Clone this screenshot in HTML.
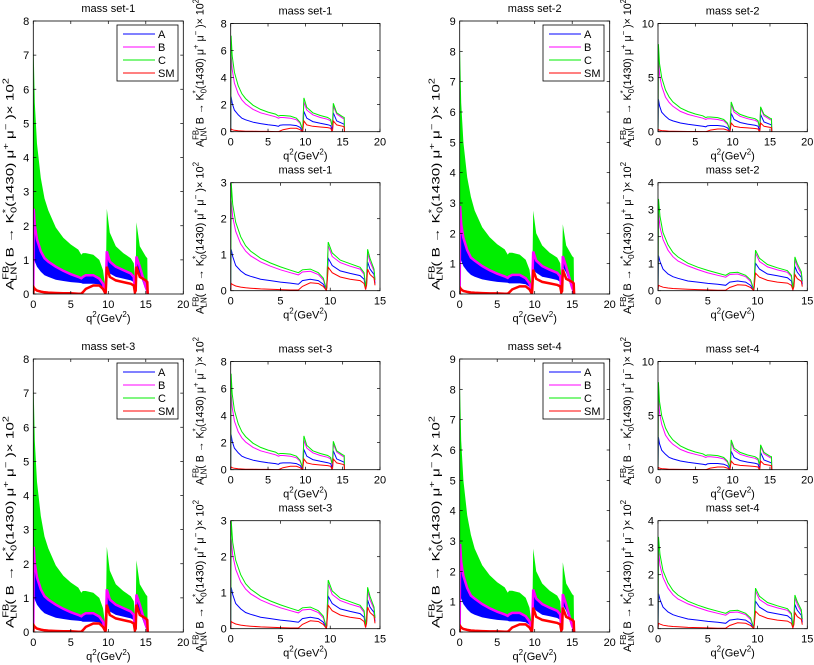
<!DOCTYPE html>
<html><head><meta charset="utf-8"><style>
html,body{margin:0;padding:0;background:#fff;}
svg{display:block;font-family:"Liberation Sans",sans-serif;}
</style></head><body>
<svg id="fig" width="814" height="665" viewBox="0 0 814 665" xmlns="http://www.w3.org/2000/svg"></svg>
<script>
// ---- data ----
const qTop = [0,0.05,0.2,0.5,1,1.5,2,3,4,5,6,6.4,6.6,7,8,8.8,9.3,9.6,9.65,9.8,10.2,11,12,13,13.4,13.55,13.65,13.75,14.2,15,15.2,15.25];
const qBot = [0,0.05,0.2,0.5,1,1.5,2,3,4,5,6,6.8,7.2,8,8.8,9.3,9.6,9.65,9.8,10.2,11,12,13,13.4,13.55,13.65,13.75,14.0,14.4,14.5];
// set 1 / 3, top small panel
const topC1 = [0,7.1,5.6,4.4,3.4,2.8,2.45,1.95,1.65,1.45,1.3,1.15,1.2,1.2,1.15,1.0,0.7,0.2,0.1,2.5,1.8,1.4,1.2,1.05,0.9,0.5,0.6,2.1,1.4,1.1,1.05,0];
const topB1 = [0,5.7,4.6,3.6,2.8,2.35,2.05,1.65,1.4,1.25,1.1,1.0,1.05,1.05,1.0,0.88,0.62,0.18,0.1,2.2,1.6,1.25,1.05,0.92,0.8,0.45,0.5,1.9,1.3,1.0,0.95,0];
const topA1 = [0,2.6,2.1,1.6,1.25,1.0,0.88,0.7,0.6,0.52,0.45,0.4,0.48,0.5,0.5,0.45,0.32,0.08,0.05,1.5,1.0,0.75,0.62,0.52,0.45,0.2,0.3,1.4,0.8,0.6,0.55,0];
const topSM = [0,0.2,0.15,0.1,0.07,0.05,0.04,0.03,0.02,0.02,0.01,0.01,0.05,0.15,0.25,0.25,0.15,0.02,0.05,0.8,0.5,0.4,0.35,0.3,0.25,0.05,0.1,0.8,0.5,0.4,0.35,0];
// set 1 / 3, bottom small panel
const botC1 = [0,3.0,2.4,1.9,1.5,1.25,1.1,0.9,0.77,0.66,0.57,0.5,0.58,0.6,0.5,0.35,0.05,0.1,1.35,1.05,0.85,0.75,0.65,0.5,0.1,0.3,1.15,0.9,0.6,0.3];
const botB1 = [0,2.5,2.05,1.65,1.3,1.1,0.97,0.8,0.68,0.58,0.5,0.44,0.52,0.54,0.45,0.3,0.04,0.1,1.25,0.95,0.78,0.68,0.6,0.45,0.1,0.3,1.05,0.8,0.55,0.28];
const botA1 = [0,1.15,0.95,0.7,0.55,0.45,0.4,0.32,0.28,0.24,0.21,0.18,0.28,0.32,0.28,0.18,0.02,0.08,0.9,0.7,0.55,0.48,0.42,0.32,0.05,0.2,0.8,0.6,0.45,0.2];
const botSM = [0,0.2,0.17,0.13,0.1,0.08,0.07,0.05,0.04,0.03,0.02,0.02,0.12,0.22,0.2,0.12,0.01,0.05,0.65,0.5,0.38,0.32,0.28,0.2,0.03,0.15,0.6,0.45,0.35,0.15];
// set 2 / 4
const topC2 = [0,8.1,6.3,5.0,3.85,3.2,2.75,2.2,1.87,1.64,1.47,1.3,1.36,1.36,1.3,1.13,0.8,0.23,0.1,2.75,2.0,1.6,1.36,1.2,1.02,0.55,0.7,2.3,1.6,1.25,1.2,0];
const topB2 = [0,6.9,5.3,4.2,3.2,2.7,2.35,1.88,1.6,1.42,1.25,1.13,1.2,1.2,1.13,1.0,0.7,0.2,0.1,2.5,1.8,1.42,1.2,1.05,0.9,0.5,0.6,2.15,1.47,1.13,1.07,0];
const topA2 = [0,3.0,2.4,1.8,1.42,1.13,1.0,0.8,0.68,0.59,0.51,0.45,0.54,0.57,0.57,0.51,0.36,0.09,0.05,1.7,1.13,0.85,0.7,0.59,0.51,0.23,0.34,1.6,0.9,0.68,0.62,0];
const botC2 = [0,3.4,2.75,2.15,1.7,1.42,1.25,1.02,0.87,0.75,0.65,0.57,0.66,0.68,0.57,0.4,0.06,0.1,1.5,1.2,0.97,0.85,0.74,0.57,0.1,0.34,1.25,1.0,0.7,0.35];
const botB2 = [0,2.9,2.35,1.9,1.5,1.26,1.1,0.92,0.78,0.66,0.57,0.5,0.6,0.62,0.52,0.34,0.05,0.1,1.4,1.08,0.88,0.77,0.68,0.52,0.1,0.34,1.15,0.9,0.62,0.32];
const botA2 = [0,1.3,1.08,0.8,0.62,0.52,0.46,0.36,0.32,0.27,0.24,0.2,0.32,0.36,0.32,0.2,0.02,0.09,1.02,0.8,0.62,0.55,0.48,0.36,0.06,0.23,0.9,0.68,0.5,0.23];
// big panel bands (on qTop grid)
const bigLo1 = [0,1.0,0.95,0.8,0.65,0.55,0.5,0.42,0.38,0.35,0.33,0.32,0.3,0.3,0.3,0.28,0.2,0.05,0.05,0.7,0.6,0.5,0.45,0.4,0.35,0.1,0.2,0.8,0.6,0.1,0.1,0];
const bigHi1 = [0,2.5,2.0,1.6,1.25,1.05,0.95,0.8,0.68,0.58,0.5,0.46,0.5,0.55,0.55,0.45,0.3,0.05,0.1,1.25,0.95,0.8,0.7,0.6,0.5,0.1,0.3,1.1,0.8,0.2,0.1,0];
const bigLo2 = [0,1.15,1.1,0.92,0.75,0.63,0.57,0.48,0.44,0.4,0.38,0.37,0.35,0.35,0.35,0.32,0.23,0.06,0.06,0.8,0.7,0.57,0.52,0.46,0.4,0.1,0.23,0.9,0.7,0.1,0.1,0];
const bigHi2 = [0,2.9,2.3,1.85,1.45,1.2,1.1,0.92,0.78,0.67,0.58,0.53,0.58,0.63,0.63,0.52,0.35,0.06,0.1,1.4,1.1,0.92,0.8,0.7,0.58,0.1,0.35,1.25,0.9,0.2,0.1,0];
const xTicks20 = [0,5,10,15,20];
const xTicks15 = [0,5,10,15];
const yTicksBig8 = [0,1,2,3,4,5,6,7,8];
const yTicksBig9 = [0,1,2,3,4,5,6,7,8,9];
const yTicksTop8 = [0,2,4,6,8];
const yTicksTop10 = [0,5,10];
const yTicksBot3 = [0,1,2,3];
const yTicksBot4 = [0,1,2,3,4];
const legendNames = ["A","B","C","SM"];
const legendColors = ["#0000ff","#ff00ff","#00ee00","#ff0000"];

const NS="http://www.w3.org/2000/svg";
const svg=document.getElementById('fig');
function mk(tag,attrs,parent){const e=document.createElementNS(NS,tag);for(const k in attrs)e.setAttribute(k,attrs[k]);(parent||svg).appendChild(e);return e;}

function ylabel(g,cx,cy,len){
  const t=mk('text',{transform:`translate(${cx},${cy}) rotate(-90)`,'text-anchor':'middle','font-size':'11',textLength:len,lengthAdjust:'spacingAndGlyphs'},g);
  
  
  t.innerHTML='A<tspan font-size="8" dy="-5">FB</tspan><tspan font-size="8" dx="-11" dy="8">LN</tspan><tspan dy="-3">( B → K</tspan><tspan font-size="8" dy="-5">*</tspan><tspan font-size="8" dx="-3" dy="8">0</tspan><tspan dy="-3">(1430) μ</tspan><tspan font-size="8" dy="-5">+</tspan><tspan dy="5"> μ</tspan><tspan font-size="8" dy="-5">−</tspan><tspan dy="5"> )× 10</tspan><tspan font-size="8" dy="-5">2</tspan>';
}

function panel(opt){
  const g=mk('g',{});
  
  
  const {x0,x1,yT,yB,xmax,ymax}=opt;
  const sx=v=>x0+(x1-x0)*v/xmax, sy=v=>yB-(yB-yT)*v/ymax;
  const clip='c'+Math.round(x0)+'_'+Math.round(yT);
  const cp=mk('clipPath',{id:clip},g); mk('rect',{x:x0,y:yT,width:x1-x0,height:yB-yT},cp);
  const pg=mk('g',{'clip-path':`url(#${clip})`},g);
  const pts=(q,v)=>q.map((x,i)=>sx(x).toFixed(1)+','+sy(v[i]).toFixed(1));
  if(opt.band){
    const b=opt.band;
    const green=mk('polygon',{points:pts(opt.q,b.top).concat(pts(opt.q,b.hi).reverse()).join(' '),fill:'#00ee00'},pg);
    
    
    const blue=mk('polygon',{points:pts(opt.q,b.hi).concat(pts(opt.q,b.lo).reverse()).join(' '),fill:'#0000ff'},pg);
    
    
    const mag=mk('polyline',{points:pts(opt.q,b.hi).join(' '),fill:'none',stroke:'#ff00ff','stroke-width':2.5},pg);
    
    
    const red=mk('polyline',{points:pts(opt.q,b.sm).join(' '),fill:'none',stroke:'#ff0000','stroke-width':2.5},pg);
    
    
  } else {
    opt.series.forEach((s,i)=>{
      const l=mk('polyline',{points:pts(opt.q,s).join(' '),fill:'none',stroke:legendColors[i],'stroke-width':1},pg);
      
      
    });
  }
  const box=mk('rect',{x:x0,y:yT,width:x1-x0,height:yB-yT,fill:'none',stroke:'#000','stroke-width':0.8},g);
  
  
  opt.xt.forEach(v=>{
    const x=sx(v);
    mk('line',{x1:x,x2:x,y1:yB,y2:yB-3,stroke:'#000','stroke-width':0.7},g);
    mk('line',{x1:x,x2:x,y1:yT,y2:yT+3,stroke:'#000','stroke-width':0.7},g);
    const t=mk('text',{x:x,y:yB+14,'text-anchor':'middle','font-size':'11'},g);t.textContent=v;
    
    
  });
  opt.yt.forEach(v=>{
    const y=sy(v);
    mk('line',{x1:x0,x2:x0+3,y1:y,y2:y,stroke:'#000','stroke-width':0.7},g);
    mk('line',{x1:x1,x2:x1-3,y1:y,y2:y,stroke:'#000','stroke-width':0.7},g);
    const t=mk('text',{x:x0-4,y:y+4,'text-anchor':'end','font-size':'11'},g);t.textContent=v;
    
    
  });
  const tt=mk('text',{x:(x0+x1)/2,y:yT-9,'text-anchor':'middle','font-size':'11'},g);tt.textContent=opt.title;
  
  
  const xl=mk('text',{x:(x0+x1)/2,y:yB+28,'text-anchor':'middle','font-size':'11'},g);
  xl.innerHTML='q<tspan font-size="8" dy="-5">2</tspan><tspan dy="5">(GeV</tspan><tspan font-size="8" dy="-5">2</tspan><tspan dy="5">)</tspan>';
  
  
  ylabel(g,opt.ylx,opt.yly,opt.yllen);
  if(opt.legend){
    const L=opt.legend;
    const lg=mk('g',{},g);
    
    
    mk('rect',{x:L.x,y:L.y,width:61,height:56,fill:'#fff',stroke:'#000','stroke-width':0.8},lg);
    legendNames.forEach((n,i)=>{
      const y=L.y+9+i*13;
      const e=mk('g',{},lg);
      
      
      mk('line',{x1:L.x+6,x2:L.x+38,y1:y,y2:y,stroke:legendColors[i],'stroke-width':1},e);
      const t=mk('text',{x:L.x+41,y:y+4,'font-size':'11'},e);t.textContent=n;
    });
  }
}

const quads=[
  {dx:0,dy:0,set:1,top:[topA1,topB1,topC1],bot:[botA1,botB1,botC1],lo:bigLo1,hi:bigHi1,bm:8,yb:yTicksBig8,tm:8,yt:yTicksTop8,bmx:3,ybt:yTicksBot3},
  {dx:427,dy:0,set:2,top:[topA2,topB2,topC2],bot:[botA2,botB2,botC2],lo:bigLo2,hi:bigHi2,bm:9,yb:yTicksBig9,tm:10,yt:yTicksTop10,bmx:4,ybt:yTicksBot4},
  {dx:0,dy:338,set:3,top:[topA1,topB1,topC1],bot:[botA1,botB1,botC1],lo:bigLo1,hi:bigHi1,bm:8,yb:yTicksBig8,tm:8,yt:yTicksTop8,bmx:3,ybt:yTicksBot3},
  {dx:427,dy:338,set:4,top:[topA2,topB2,topC2],bot:[botA2,botB2,botC2],lo:bigLo2,hi:bigHi2,bm:9,yb:yTicksBig9,tm:10,yt:yTicksTop10,bmx:4,ybt:yTicksBot4}
];
quads.forEach(Q=>{
  const bx=Q.dx===0?33.3:459.7, sxo=Q.dx===0?230.7:658;
  panel({name:'main-chart-set-'+Q.set,x0:bx,x1:bx+150,yT:21+Q.dy,yB:294+Q.dy,xmax:20,ymax:Q.bm,q:qTop,
    band:{top:Q.top[2],hi:Q.hi,lo:Q.lo,sm:topSM},xt:xTicks20,yt:Q.yb,title:'mass set-'+Q.set,
    ylx:bx-20,yly:184+Q.dy,yllen:212,legend:{x:(Q.dx===0?117:543),y:25+Q.dy}});
  panel({name:'top-chart-set-'+Q.set,x0:sxo,x1:sxo+149.3,yT:23.5+Q.dy,yB:131.7+Q.dy,xmax:20,ymax:Q.tm,q:qTop,
    series:[Q.top[0],Q.top[1],Q.top[2],topSM],xt:xTicks20,yt:Q.yt,title:'mass set-'+Q.set,
    ylx:sxo-27,yly:73+Q.dy,yllen:148});
  panel({name:'bottom-chart-set-'+Q.set,x0:sxo,x1:sxo+149.3,yT:182.7+Q.dy,yB:290.7+Q.dy,xmax:15,ymax:Q.bmx,q:qBot,
    series:[Q.bot[0],Q.bot[1],Q.bot[2],botSM],xt:xTicks15,yt:Q.ybt,title:'mass set-'+Q.set,
    ylx:sxo-27,yly:238+Q.dy,yllen:152});
});
</script>
</body></html>
